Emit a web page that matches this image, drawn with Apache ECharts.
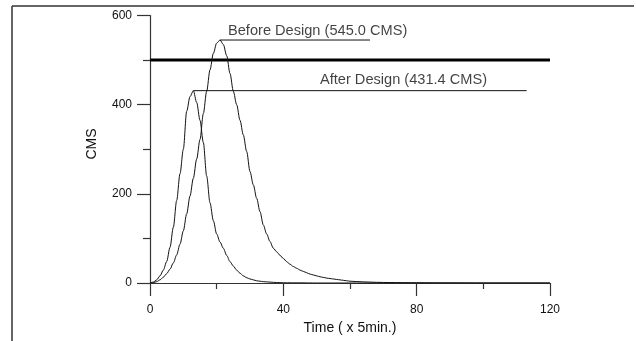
<!DOCTYPE html>
<html>
<head>
<meta charset="utf-8">
<script src="https://cdn.jsdelivr.net/npm/echarts@6/dist/echarts.min.js"></script>
<style>
html,body{margin:0;padding:0;background:#fff;}
#c{width:636px;height:341px;}
</style>
</head>
<body>
<div id="c"></div>
<script>
// ---- data ----
const beforeTime = [0,1,2,3,4,5,6,7,8,9,10,11,12,13,14,15,16,17,18,19,20,21,22,23,24,25,26,27,28,29,30,31,32,33,34,35,36,37,38,39,40,41,42,43,44,45,46,47,48,49,50,51,52,53,54,55,56,57,58,59,60,64,68,72,80,90,100,110,120];
const beforeCMS  = [0,1,3,7,13,21,31,45,63,87,117,155,195,235,278,322,380,430,478,515,538,545,535,510,470,430,400,365,332,295,250,220,190,160,130,110,93,78,70,62,55,48,42,37,33,29,26,23,20,18,16,14,12.5,11,10,9,8,7,6,5,4,2.5,1.5,1,0.5,0.2,0,0,0];
const afterTime  = [0,1,2,3,4,5,6,7,8,9,10,11,12,13,14,15,16,17,18,19,20,21,22,23,24,25,26,27,28,29,30,31,32,33,34,35,36,37,38,40,45,50,60,80,100,120];
const afterCMS   = [0,2,7,16,29,48,80,125,185,245,300,385,418,431.4,405,365,315,240,180,140,110,92,78,62,48,38,29,22,16,12,9,7,5,4,3,2.5,2,1.5,1,0.5,0.3,0,0,0,0,0];
const limitLevel = 500;
const limitRange = [0, 120];
const beforePeak = [21, 545.0];
const afterPeak  = [13, 431.4];
const beforeLeaderEnd = 66;
const afterLeaderEnd  = 113;
const beforeLabel = 'Before Design (545.0 CMS)';
const afterLabel  = 'After Design (431.4 CMS)';
const beforeLabelPos = [23.4, 566];
const afterLabelPos  = [51, 456];
const xTicks = [0, 40, 80, 120];
const yTicks = [0, 200, 400, 600];
const xTitle = 'Time ( x 5min.)';
const yTitle = 'CMS';

const FONT = "'Liberation Sans', Arial, sans-serif";
const zip = (a, b) => a.map((v, i) => [v, b[i]]);

const chart = echarts.init(document.getElementById('c'), null, {renderer: 'canvas'});
const lineStyle = {color: '#111', width: 1};
chart.setOption({
  animation: false,
  backgroundColor: '#fff',
  grid: {left: 150, right: 86, top: 15.5, bottom: 58, containLabel: false, outerBoundsMode: 'none'},
  xAxis: {
    type: 'value', min: xTicks[0], max: xTicks[xTicks.length - 1], interval: 40,
    axisLine: {show: true, onZero: false, lineStyle: {color: '#333', width: 1.2}},
    axisTick: {show: true, inside: false, length: 13, lineStyle: {color: '#333', width: 1.2}},
    minorTick: {show: true, splitNumber: 2, length: 6, lineStyle: {color: '#333', width: 1.2}},
    splitLine: {show: false},
    axisLabel: {color: '#111', fontSize: 12, fontFamily: FONT, margin: 21},
    name: xTitle, nameLocation: 'middle', nameGap: 38,
    nameTextStyle: {color: '#111', fontSize: 14, fontFamily: FONT}
  },
  yAxis: {
    type: 'value', min: yTicks[0], max: yTicks[yTicks.length - 1], interval: 200,
    axisLine: {show: true, onZero: false, lineStyle: {color: '#333', width: 1.2}},
    axisTick: {show: true, inside: false, length: 13, lineStyle: {color: '#333', width: 1.2}},
    minorTick: {show: true, splitNumber: 2, length: 7, lineStyle: {color: '#333', width: 1.2}},
    splitLine: {show: false},
    axisLabel: {color: '#111', fontSize: 12, fontFamily: FONT, margin: 18}
  },
  graphic: [
    {type: 'line', shape: {x1: 12, y1: 6, x2: 634, y2: 6}, style: {stroke: '#333', lineWidth: 1.5}},
    {type: 'line', shape: {x1: 12, y1: 6, x2: 12, y2: 341}, style: {stroke: '#333', lineWidth: 1.5}},
    {type: 'text', x: 92, y: 144, rotation: Math.PI / 2,
     style: {text: yTitle, fill: '#111', font: '14px ' + FONT, textAlign: 'center', textVerticalAlign: 'middle'}}
  ],
  series: [
    {type: 'line', data: zip(limitRange, [limitLevel, limitLevel]), symbol: 'none',
     lineStyle: {color: '#000', width: 3}, z: 3},
    {type: 'line', data: zip(beforeTime, beforeCMS), symbol: 'none', smooth: 0.3, smoothMonotone: 'x', lineStyle: lineStyle},
    {type: 'line', data: zip(afterTime, afterCMS), symbol: 'none', smooth: 0.3, smoothMonotone: 'x', lineStyle: lineStyle},
    {type: 'line', data: [beforePeak, [beforeLeaderEnd, beforePeak[1]]], symbol: 'none', lineStyle: lineStyle},
    {type: 'line', data: [afterPeak, [afterLeaderEnd, afterPeak[1]]], symbol: 'none', lineStyle: lineStyle},
    {type: 'scatter', symbolSize: 0, silent: true,
     data: [
       {value: beforeLabelPos, name: beforeLabel},
       {value: afterLabelPos, name: afterLabel}
     ],
     label: {show: true, position: 'right', distance: 0, formatter: p => p.name,
             color: '#111', fontSize: 14.6, fontFamily: FONT}}
  ]
});
</script>
</body>
</html>
